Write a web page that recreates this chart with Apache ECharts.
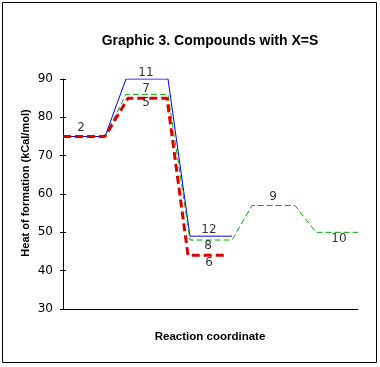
<!DOCTYPE html>
<html><head><meta charset="utf-8">
<script src="https://cdn.jsdelivr.net/npm/echarts@6/dist/echarts.min.js"></script>
<style>html,body{margin:0;padding:0;background:#fff}#c{width:380px;height:367px}</style>
</head><body><div id="c"></div>
<script>
// Reaction coordinate (arbitrary units) and heat of formation (kCal/mol)
const blueX = [0, 42, 63, 105, 127, 169];
const blueY = [75, 75, 90, 90, 49, 49];
const redX = [0, 42, 65, 104, 125, 164];
const redY = [75, 75, 85, 85, 44, 44];
const greenX = [42, 63, 105, 127, 169, 189, 232, 253, 295];
const greenY = [75, 86, 86, 48, 48, 57, 57, 50, 50];
const labelTexts = ['2', '11', '7', '5', '12', '8', '6', '9', '10'];
const labelX = [18, 83, 83, 83, 146, 145, 146, 210, 276];
const labelY = [77.2, 91.6, 87.4, 83.7, 50.6, 46.4, 42.0, 59.2, 48.3];
const yTicks = [30, 40, 50, 60, 70, 80, 90];

const zip = (xs, ys) => xs.map((x, i) => [x, ys[i]]);
const chart = echarts.init(document.getElementById('c'));
const lineSeries = (xs, ys, color, width, type, z) => ({
  type: 'line', data: zip(xs, ys), symbol: 'none', z: z, animation: false,
  lineStyle: { color: color, width: width, type: type }
});
chart.setOption({
  animation: false,
  grid: { left: 63, right: 22, top: 79, bottom: 58 },
  xAxis: { type: 'value', min: 0, max: 295, axisLine: { lineStyle: { color: '#000', width: 1 } },
    axisTick: { show: false }, axisLabel: { show: false }, splitLine: { show: false } },
  yAxis: [{ type: 'value', min: yTicks[0], max: yTicks[yTicks.length - 1], interval: 10,
    axisLine: { show: true, lineStyle: { color: '#000', width: 1 } },
    axisTick: { show: true, length: 3, lineStyle: { color: '#000' } },
    axisLabel: { color: '#000', fontFamily: 'DejaVu Sans', fontSize: 12, margin: 10 },
    splitLine: { show: false } },
    { type: 'value', min: yTicks[0], max: yTicks[yTicks.length - 1], interval: 10, position: 'left',
    axisLine: { show: false }, axisTick: { show: true, inside: true, length: 3, lineStyle: { color: '#000' } },
    axisLabel: { show: false }, splitLine: { show: false } }],
  series: [
    lineSeries(blueX, blueY, '#0000ee', 1, 'solid', 2),
    lineSeries(greenX, greenY, '#00aa00', 1, [6, 3], 3),
    lineSeries(redX, redY, '#dd0000', 3, [8, 4], 4),
    { type: 'scatter', symbolSize: 0, z: 5, clip: false, data: zip(labelX, labelY).map((p, i) => ({ value: p, name: labelTexts[i] })),
      label: { show: true, position: 'inside', formatter: p => p.name, color: '#000', fontFamily: 'DejaVu Sans', fontSize: 12 } }
  ],
  graphic: [
    { type: 'rect', shape: { x: 2.5, y: 2.5, width: 374, height: 360 }, style: { fill: 'none', stroke: '#000', lineWidth: 1 }, z: -1 },
    { type: 'text', x: 210, y: 41, style: { text: 'Graphic 3. Compounds with X=S', font: 'bold 14px "Liberation Sans"', fill: '#000', textAlign: 'center', textVerticalAlign: 'middle' } },
    { type: 'text', x: 210, y: 337, style: { text: 'Reaction coordinate', font: 'bold 11.5px "Liberation Sans"', fill: '#000', textAlign: 'center', textVerticalAlign: 'middle' } },
    { type: 'text', x: 26, y: 183, rotation: Math.PI / 2, style: { text: 'Heat of formation (kCal/mol)', font: 'bold 11px "Liberation Sans"', fill: '#000', textAlign: 'center', textVerticalAlign: 'middle' } }
  ]
});
</script></body></html>
